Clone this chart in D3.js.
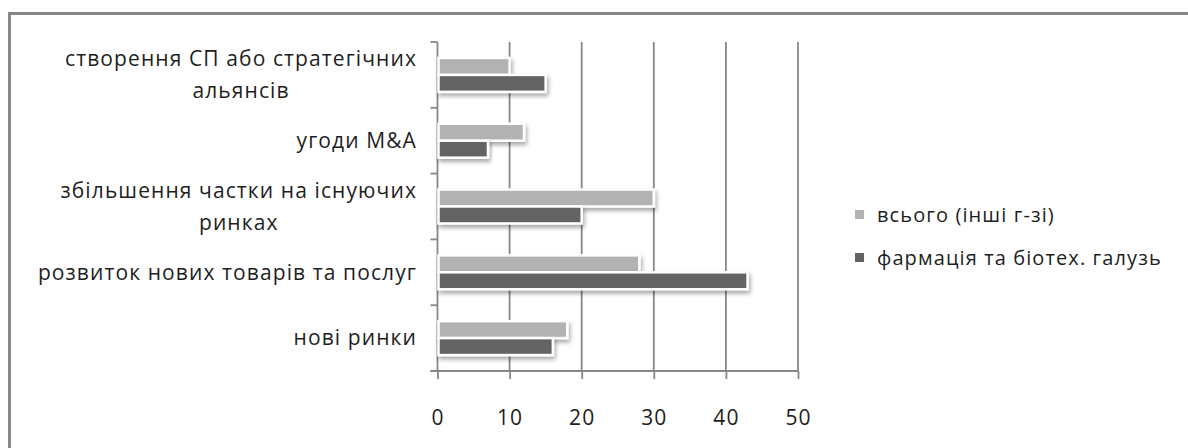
<!DOCTYPE html>
<html>
<head>
<meta charset="utf-8">
<script src="https://cdn.jsdelivr.net/npm/d3@7"></script>
<style>
  body { margin: 0; background: #fff; }
  svg { display: block; }
  text { font-family: "Open Sans", sans-serif; fill: #1e1e1e; letter-spacing: 1.1px; }
</style>
</head>
<body>
<svg id="chart" width="1188" height="448"></svg>
<script>
// Categories top to bottom; "\n" marks a line break in the label
const categories = [
  "створення СП або стратегічних\nальянсів",
  "угоди M&A",
  "збільшення частки на існуючих\nринках",
  "розвиток нових товарів та послуг",
  "нові ринки"
];
const seriesNames = ["всього (інші г-зі)", "фармація та біотех. галузь"];
const totalValues = [10, 12, 30, 28, 18];
const pharmaValues = [15, 7, 20, 43, 16];
const xTicks = [0, 10, 20, 30, 40, 50];

const colors = ["#b2b2b2", "#636363"];
const lineColor = "#878787";

const svg = d3.select("#chart");

// drop shadow for bars
const defs = svg.append("defs");
defs.append("filter")
  .attr("id", "shadow")
  .attr("x", "-5%").attr("y", "-40%").attr("width", "115%").attr("height", "200%")
  .append("feDropShadow")
  .attr("dx", 1.5).attr("dy", 3)
  .attr("stdDeviation", 2)
  .attr("flood-color", "#000")
  .attr("flood-opacity", 0.35);

// outer frame (continues past the right and bottom edges)
svg.append("rect")
  .attr("x", 9.5).attr("y", 13.5)
  .attr("width", 1300).attr("height", 600)
  .attr("fill", "none")
  .attr("stroke", lineColor)
  .attr("stroke-width", 3);

const plot = { left: 437.5, right: 798, top: 42, bottom: 371 };

const x = d3.scaleLinear().domain([0, 50]).range([plot.left, plot.right]);
const y = d3.scaleBand().domain(categories).range([plot.top, plot.bottom]).padding(0);
const ySub = d3.scaleBand().domain([0, 1]).range([0, y.bandwidth()])
  .paddingInner(0).paddingOuter(0.94);

// vertical gridlines
svg.append("g")
  .selectAll("line")
  .data(xTicks.filter(d => d > 0))
  .join("line")
  .attr("x1", d => x(d)).attr("x2", d => x(d))
  .attr("y1", plot.top).attr("y2", plot.bottom)
  .attr("stroke", lineColor).attr("stroke-width", 1.8);

// bottom axis
const xAxis = d3.axisBottom(x).tickValues(xTicks).tickSize(8).tickPadding(31).tickFormat(d3.format("d"));
const gx = svg.append("g").attr("transform", `translate(0,${plot.bottom})`).call(xAxis);
gx.select(".domain").remove();
gx.selectAll(".tick line").attr("stroke", lineColor).attr("stroke-width", 1.8);
gx.selectAll(".tick text").style("font-size", "21px").attr("fill", "#1e1e1e").attr("font-family", null);
gx.append("line")
  .attr("x1", plot.left - 7).attr("x2", plot.right)
  .attr("stroke", lineColor).attr("stroke-width", 1.8);

// left axis with ticks at band edges
const edges = categories.map(c => y(c)).concat([plot.bottom]);
const gy = svg.append("g");
gy.append("line")
  .attr("x1", plot.left).attr("x2", plot.left)
  .attr("y1", plot.top).attr("y2", plot.bottom)
  .attr("stroke", lineColor).attr("stroke-width", 1.8);
gy.selectAll(".edge").data(edges).join("line")
  .attr("class", "edge")
  .attr("x1", plot.left - 7).attr("x2", plot.left)
  .attr("y1", d => d).attr("y2", d => d)
  .attr("stroke", lineColor).attr("stroke-width", 1.8);

// bars
const seriesData = [totalValues, pharmaValues];
const barG = svg.append("g");
seriesData.forEach((vals, si) => {
  barG.selectAll(`.bar${si}`)
    .data(categories.map((c, i) => ({ c, v: vals[i] })))
    .join("rect")
    .attr("class", `bar${si}`)
    .attr("x", x(0) + 1)
    .attr("y", d => y(d.c) + ySub(si))
    .attr("width", d => x(d.v) - x(0) - 1)
    .attr("height", ySub.bandwidth())
    .attr("fill", colors[si])
    .attr("stroke", "#fff")
    .attr("stroke-width", 2.5)
    .attr("filter", "url(#shadow)");
});

// category labels: block right-aligned, lines centred within block
const labelRight = 417;
const lineH = 32;
categories.forEach(c => {
  const lines = c.split("\n");
  const t = svg.append("text").style("font-size", "21px").attr("text-anchor", "middle");
  const spans = lines.map(ln => t.append("tspan").text(ln));
  const w = d3.max(spans, s => s.node().getComputedTextLength());
  const cx = labelRight - w / 2;
  const cy = y(c) + y.bandwidth() / 2;
  const y0 = cy - (lines.length - 1) * lineH / 2;
  spans.forEach((s, i) => s.attr("x", cx).attr("y", y0 + i * lineH).attr("dy", "0.35em"));
});

// legend
const legend = svg.append("g");
seriesNames.forEach((name, i) => {
  const ly = 214.5 + i * 43;
  legend.append("rect")
    .attr("x", 855).attr("y", ly - 4.5).attr("width", 9).attr("height", 9)
    .attr("fill", colors[i]);
  legend.append("text")
    .attr("x", 877).attr("y", ly).attr("dy", "0.35em")
    .style("font-size", "20px")
    .text(name);
});
</script>
</body>
</html>
